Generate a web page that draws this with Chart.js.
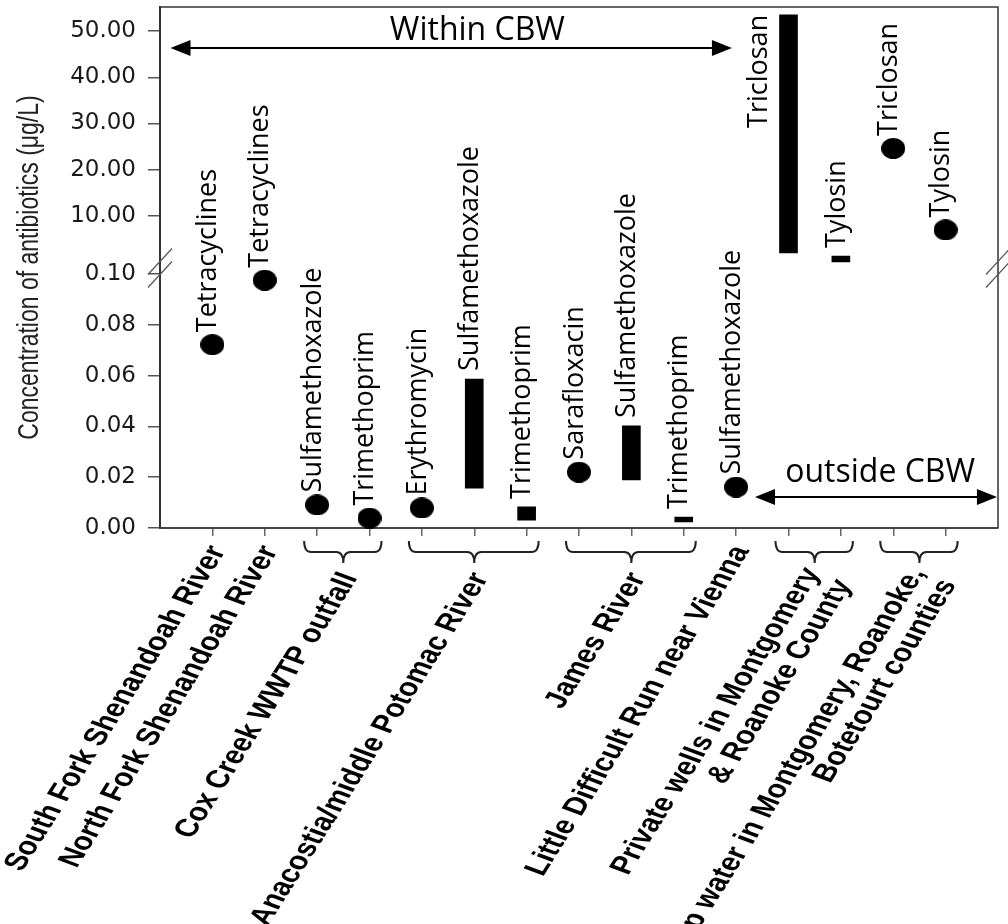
<!DOCTYPE html>
<html>
<head>
<meta charset="utf-8">
<script src="https://cdn.jsdelivr.net/npm/chart.js@4.4.1/dist/chart.umd.min.js"></script>
<style>
  html, body { margin: 0; padding: 0; background: #fff; }
</style>
</head>
<body>
<canvas id="antibioticChart" width="1008" height="924"></canvas>
<script>
// sampling sites, one per bracket under the axis
const siteNames = [
    ['South Fork Shenandoah River'],
    ['North Fork Shenandoah River'],
    ['Cox Creek WWTP outfall'],
    ['Anacostia/middle Potomac River'],
    ['James River'],
    ['Little Difficult Run near Vienna'],
    ['Private wells in Montgomery', '& Roanoke County'],
    ['tap water in Montgomery, Roanoke,', 'Botetourt counties']
];
const siteFirst = [1, 2, 3, 5, 8, 11, 12, 14];
const siteLast = [1, 2, 4, 7, 10, 11, 13, 15];

// measured compounds, left to right (position = index + 1)
const compounds = ['Tetracyclines', 'Tetracyclines', 'Sulfamethoxazole', 'Trimethoprim', 'Erythromycin',
    'Sulfamethoxazole', 'Trimethoprim', 'Sarafloxacin', 'Sulfamethoxazole', 'Trimethoprim',
    'Sulfamethoxazole', 'Triclosan', 'Tylosin', 'Triclosan', 'Tylosin'];
const concMin = [0.0722, 0.0976, 0.0091, 0.0039, 0.0079, 0.0157, 0.0031, 0.0220, 0.0189, 0.0024, 0.0161, 2.0, 0.05, 24.6, 7.0];
const concMax = [0.0722, 0.0976, 0.0091, 0.0039, 0.0079, 0.0587, 0.0083, 0.0220, 0.0402, 0.0043, 0.0161, 53.5, 1.35, 24.6, 7.0];
const isRange = [false, false, false, false, false, true, true, false, true, true, false, true, true, false, false];
const onUpperPanel = [false, false, false, false, false, false, false, false, false, false, false, true, true, true, true];

const lowTicks = [0, 0.02, 0.04, 0.06, 0.08, 0.10];
const highTicks = [10, 20, 30, 40, 50];

// Within / outside CBW arrows, in axis units
const regionArrows = [
    { text: 'Within CBW', from: 0.2, to: 10.92, upper: true, y: 46.3, textX: 6.06, lift: 8 },
    { text: 'outside CBW', from: 11.36, to: 15.98, upper: false, y: 0.0122, textX: 13.75, lift: 15 }
];
const sideLabelAt = 12; // the wide triclosan bar has its label on the left

const DOT_W = 24, DOT_H = 21;

function makeDot(w, h) {
    const c = document.createElement('canvas');
    c.width = w;
    c.height = h;
    const g = c.getContext('2d');
    g.fillStyle = '#000';
    g.beginPath();
    g.ellipse(w / 2, h / 2, w / 2, h / 2, 0, 0, Math.PI * 2);
    g.fill();
    return c;
}

function buildData(upper, range) {
    const out = [];
    compounds.forEach(function (name, i) {
        if (onUpperPanel[i] !== upper || isRange[i] !== range) return;
        out.push({ x: i + 1, y: range ? [concMin[i], concMax[i]] : concMax[i] });
    });
    return out;
}

function drawHead(ctx, x, y, dir) {
    ctx.beginPath();
    ctx.moveTo(x, y);
    ctx.lineTo(x + dir * 20, y - 8);
    ctx.lineTo(x + dir * 20, y + 8);
    ctx.closePath();
    ctx.fill();
}

function drawBrace(ctx, x0, x1, cx, y) {
    const top = y + 13, mid = y + 24, tip = y + 35, r = 7;
    ctx.beginPath();
    ctx.moveTo(x0, top);
    ctx.quadraticCurveTo(x0, mid, x0 + r, mid);
    ctx.lineTo(cx - r, mid);
    ctx.quadraticCurveTo(cx, mid, cx, tip);
    ctx.moveTo(x1, top);
    ctx.quadraticCurveTo(x1, mid, x1 - r, mid);
    ctx.lineTo(cx + r, mid);
    ctx.quadraticCurveTo(cx, mid, cx, tip);
    ctx.stroke();
}

const annotations = {
    id: 'annotations',
    afterDraw: function (chart) {
        const ctx = chart.ctx;
        const area = chart.chartArea;
        const x = chart.scales.x, lo = chart.scales.yLow, hi = chart.scales.yHigh;
        ctx.save();

        // frame top and right
        ctx.strokeStyle = '#333';
        ctx.lineWidth = 1.5;
        ctx.beginPath();
        ctx.moveTo(area.left, area.top);
        ctx.lineTo(area.right, area.top);
        ctx.lineTo(area.right, area.bottom);
        ctx.stroke();

        // axis break marks
        const brk = lo.top;
        ctx.strokeStyle = '#555';
        ctx.lineWidth = 1.2;
        [area.left, area.right].forEach(function (bx) {
            [brk - 6, brk + 7].forEach(function (by) {
                ctx.beginPath();
                ctx.moveTo(bx - 12, by + 13);
                ctx.lineTo(bx + 12, by - 13);
                ctx.stroke();
            });
        });

        // y title
        ctx.fillStyle = '#222';
        ctx.save();
        ctx.translate(30, (area.top + area.bottom) / 2);
        ctx.scale(1.3, 1);
        ctx.rotate(-Math.PI / 2);
        ctx.font = '23px "Liberation Sans", Arial, sans-serif';
        ctx.textAlign = 'center';
        ctx.textBaseline = 'middle';
        ctx.fillText('Concentration of antibiotics (\u03bcg/L)', 0, 0);
        ctx.restore();

        // compound labels next to each mark
        ctx.fillStyle = '#000';
        ctx.font = '27px "Open Sans", sans-serif';
        ctx.textBaseline = 'middle';
        compounds.forEach(function (name, i) {
            const ys = onUpperPanel[i] ? hi : lo;
            const px = x.getPixelForValue(i + 1);
            const py = ys.getPixelForValue(concMax[i]);
            ctx.save();
            if (i + 1 === sideLabelAt) {
                ctx.translate(px - 29, py);
                ctx.rotate(-Math.PI / 2);
                ctx.textAlign = 'right';
            } else {
                ctx.translate(px - 4, py - (isRange[i] ? 8 : DOT_H / 2 + 2));
                ctx.rotate(-Math.PI / 2);
                ctx.textAlign = 'left';
            }
            ctx.fillText(name, 0, 0);
            ctx.restore();
        });

        // region arrows
        ctx.strokeStyle = '#000';
        ctx.lineWidth = 2;
        ctx.font = '32px "Open Sans", sans-serif';
        ctx.textAlign = 'center';
        ctx.textBaseline = 'alphabetic';
        regionArrows.forEach(function (a) {
            const ys = a.upper ? hi : lo;
            const y = ys.getPixelForValue(a.y);
            const x1 = x.getPixelForValue(a.from), x2 = x.getPixelForValue(a.to);
            ctx.beginPath();
            ctx.moveTo(x1 + 10, y);
            ctx.lineTo(x2 - 10, y);
            ctx.stroke();
            drawHead(ctx, x1, y, 1);
            drawHead(ctx, x2, y, -1);
            ctx.fillText(a.text, x.getPixelForValue(a.textX), y - a.lift);
        });

        // site brackets and rotated site names
        ctx.strokeStyle = '#222';
        ctx.lineWidth = 2;
        ctx.font = 'bold 25px "Liberation Sans", Arial, sans-serif';
        siteNames.forEach(function (lines, g) {
            const cx = x.getPixelForValue((siteFirst[g] + siteLast[g]) / 2);
            const grouped = siteLast[g] > siteFirst[g];
            let dx = -9, dy = 14;
            if (grouped) {
                drawBrace(ctx, x.getPixelForValue(siteFirst[g]) - 13, x.getPixelForValue(siteLast[g]) + 12, cx, area.bottom);
                dx = lines.length > 1 ? -17 : -8;
                dy = lines.length > 1 ? 36 : 41;
            }
            ctx.save();
            ctx.translate(cx + dx, area.bottom + dy);
            ctx.scale(1.3, 1);
            ctx.rotate(-64 * Math.PI / 180);
            ctx.textAlign = 'right';
            ctx.textBaseline = 'top';
            lines.forEach(function (t, k) {
                ctx.fillText(t, 0, k * 27);
            });
            ctx.restore();
        });

        ctx.restore();
    }
};

function fitLeft(scale) {
    scale.width = 160;
    scale.paddingTop = 0;
    scale.paddingBottom = 0;
}

const yTickStyle = {
    callback: function (value) { return value.toFixed(2); },
    font: { family: 'DejaVu Sans', size: 23 },
    color: '#1a1a1a',
    padding: 12
};
const yGrid = { drawOnChartArea: false, tickLength: 12, color: '#555', lineWidth: 1.5 };
const yBorder = { color: '#333', width: 2 };

const dot = makeDot(DOT_W, DOT_H);
const ctx = document.getElementById('antibioticChart').getContext('2d');

new Chart(ctx, {
    type: 'bar',
    data: {
        datasets: [
            { type: 'bar', data: buildData(false, true), yAxisID: 'yLow', backgroundColor: '#000', barThickness: 18, grouped: false },
            { type: 'bar', data: buildData(true, true), yAxisID: 'yHigh', backgroundColor: '#000', barThickness: 18, grouped: false },
            { type: 'scatter', data: buildData(false, false), yAxisID: 'yLow', pointStyle: dot, pointRadius: 11, clip: false },
            { type: 'scatter', data: buildData(true, false), yAxisID: 'yHigh', pointStyle: dot, pointRadius: 11, clip: false }
        ]
    },
    options: {
        responsive: false,
        animation: false,
        layout: { autoPadding: false, padding: { top: 7, right: 10, left: 0, bottom: 0 } },
        plugins: {
            legend: { display: false },
            tooltip: { enabled: false }
        },
        scales: {
            x: {
                type: 'linear',
                min: 0,
                max: 16,
                offset: false,
                afterBuildTicks: function (axis) {
                    axis.ticks = compounds.map(function (c, i) { return { value: i + 1 }; });
                },
                afterFit: function (scale) {
                    scale.height = 396;
                    scale.paddingLeft = 0;
                    scale.paddingRight = 0;
                },
                ticks: { display: false },
                grid: { offset: false, drawOnChartArea: false, tickLength: 8, color: '#666', lineWidth: 1.5 },
                border: { color: '#444', width: 2 }
            },
            yLow: {
                type: 'linear',
                axis: 'y',
                position: 'left',
                stack: 'conc',
                stackWeight: 1,
                min: 0,
                max: 0.1026,
                afterBuildTicks: function (axis) {
                    axis.ticks = lowTicks.map(function (v) { return { value: v }; });
                },
                afterFit: fitLeft,
                ticks: yTickStyle,
                grid: yGrid,
                border: yBorder
            },
            yHigh: {
                type: 'linear',
                axis: 'y',
                position: 'left',
                stack: 'conc',
                stackWeight: 1,
                min: -1.135,
                max: 55.19,
                afterBuildTicks: function (axis) {
                    axis.ticks = highTicks.map(function (v) { return { value: v }; });
                },
                afterFit: fitLeft,
                ticks: yTickStyle,
                grid: yGrid,
                border: yBorder
            }
        }
    },
    plugins: [annotations]
});
</script>
</body>
</html>
